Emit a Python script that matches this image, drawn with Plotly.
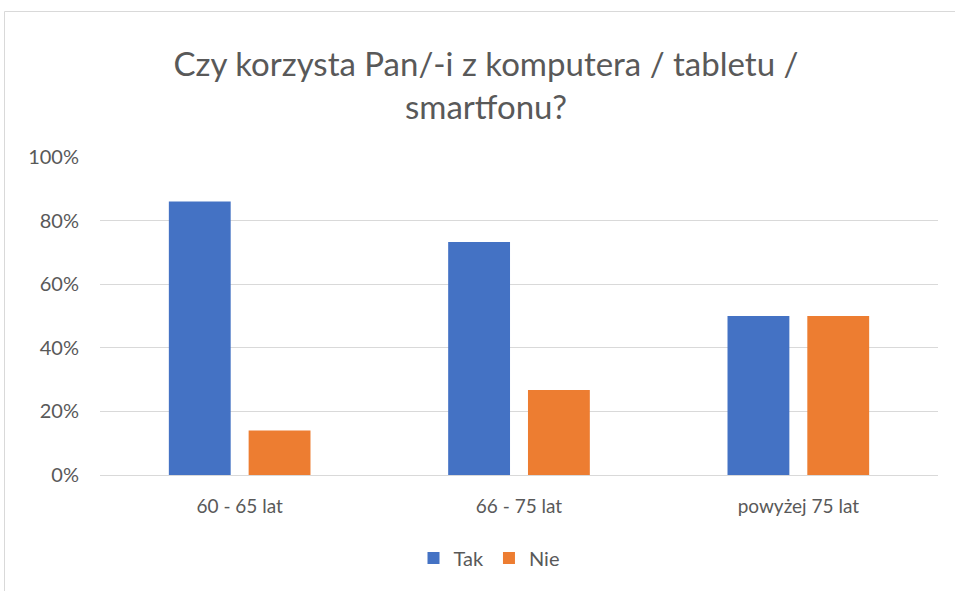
import plotly.graph_objects as go

categories = ["60 - 65 lat", "66 - 75 lat", "powyżej 75 lat"]
tak = [0.86, 0.733, 0.50]
nie = [0.14, 0.267, 0.50]
series_names = ["Tak", "Nie"]
colors = ["#4472C4", "#ED7D31"]
y_ticks = [0, 0.2, 0.4, 0.6, 0.8, 1.0]
y_tick_labels = ["0%", "20%", "40%", "60%", "80%", "100%"]
title_text = "Czy korzysta Pan/-i z komputera / tabletu /<br>smartfonu?"

FONT = "Lato"
TXT = "#595959"

fig = go.Figure()
for name, vals, col in zip(series_names, [tak, nie], colors):
    fig.add_trace(go.Bar(x=categories, y=vals, name=name, marker=dict(color=col, line=dict(width=0))))

W, H = 955, 591
l, r, t, b = 100, 17, 157, 116
pw, ph = W - l - r, H - t - b

def px_x(x):
    return (x - l) / pw

def px_y(y):
    return (H - b - y) / ph

fig.update_layout(
    width=W, height=H,
    margin=dict(l=l, r=r, t=t, b=b),
    paper_bgcolor="white", plot_bgcolor="white",
    barmode="group", bargap=0.4286, bargroupgap=0.225,
    font=dict(family=FONT, color=TXT, size=19),
    title=dict(text=title_text, x=486 / W, xanchor="center", xref="container",
               y=1 - 76 / H, yanchor="top", yref="container",
               font=dict(family=FONT, size=33, color=TXT)),
    legend=dict(orientation="h", x=px_x(489), xanchor="center", y=px_y(558), yanchor="middle",
                font=dict(family=FONT, size=20, color=TXT), itemwidth=30,
                traceorder="normal"),
    xaxis=dict(showgrid=False, showline=True, linecolor="#d9d9d9", linewidth=1,
               ticks="", tickfont=dict(size=19, color=TXT, family=FONT), ticklabelstandoff=14),
    yaxis=dict(range=[0, 1.0], tickvals=y_ticks, ticktext=y_tick_labels,
               showgrid=True, gridcolor="#d9d9d9", gridwidth=1, zeroline=False,
               showline=False, ticks="", tickfont=dict(size=20, color=TXT, family=FONT),
               ticklabelstandoff=20),
    shapes=[dict(type="rect", xref="paper", yref="paper",
                 x0=px_x(4.5), x1=px_x(970), y0=px_y(610), y1=px_y(11.5),
                 line=dict(color="#d9d9d9", width=1), fillcolor="rgba(0,0,0,0)", layer="below")],
)

fig.write_html("out.html", config={"displayModeBar": False},
               post_script="document.body.style.margin='0';")
